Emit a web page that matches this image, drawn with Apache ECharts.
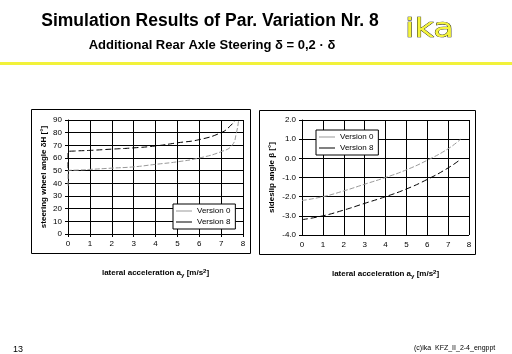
<!DOCTYPE html>
<html>
<head>
<meta charset="utf-8">
<script src="https://cdn.jsdelivr.net/npm/echarts@6/dist/echarts.min.js"></script>
<style>
  html, body { margin: 0; padding: 0; background: #fff; }
  #main { width: 512px; height: 354px; }
</style>
</head>
<body>
<div id="main"></div>
<script>
// data: [lateral acceleration, value]
var steerV0 = [[0, 38], [0, 50], [0.5, 50.5], [1, 51], [2, 52], [3, 53], [4, 55], [5, 57], [6, 60], [7, 65], [7.5, 70], [7.7, 80], [7.8, 90]];
var steerV8 = [[0, 52], [0, 65], [0.3, 65.5], [1, 66], [2, 67], [3, 68], [4, 69.5], [5, 72], [6, 74.5], [7, 80], [7.4, 85], [7.65, 90]];
var slipV0 = [[0, -2.2], [1, -2.0], [2, -1.7], [3, -1.35], [4, -1.0], [5, -0.6], [6, -0.1], [7, 0.5], [7.6, 1.0]];
var slipV8 = [[0, -3.2], [1, -3.0], [2, -2.7], [3, -2.35], [4, -2.0], [5, -1.6], [6, -1.1], [7, -0.5], [7.6, -0.05]];
var names = ["Version 0", "Version 8"];

var font = "Liberation Sans, Arial, sans-serif";

function xAx(idx) {
  return {
    type: "value", gridIndex: idx, min: 0, max: 8, interval: 1,
    name: "{n|lateral acceleration a}{s|y}{n| [m/s}{p|2}{n|]}",
    nameLocation: "middle", nameGap: 34,
    nameTextStyle: {
      rich: {
        n: { fontSize: 8, fontWeight: "bold", fontFamily: font, color: "#000" },
        s: { fontSize: 6, fontWeight: "bold", fontFamily: font, color: "#000", verticalAlign: "bottom", padding: [4, 0, 0, 0] },
        p: { fontSize: 6, fontWeight: "bold", fontFamily: font, color: "#000", verticalAlign: "top", padding: [0, 0, 4, 0] }
      }
    },
    axisLine: { lineStyle: { color: "#000", width: 1 } },
    axisTick: { show: true, length: 3, lineStyle: { color: "#000" } },
    axisLabel: { fontSize: 8, fontFamily: font, color: "#000", margin: 6 },
    splitLine: { show: true, lineStyle: { color: "#000", width: 1 } }
  };
}

function leg(x, y) {
  return {
    data: names, orient: "vertical", left: x, top: y,
    backgroundColor: "#fff", borderColor: "#000", borderWidth: 1, borderRadius: 0,
    padding: [3, 5, 3, 3], itemGap: 3, itemWidth: 16, itemHeight: 1, icon: "rect",
    textStyle: { fontSize: 8, fontFamily: font, color: "#000" }
  };
}

var chart = echarts.init(document.getElementById("main"));
chart.setOption({
  animation: false,
  backgroundColor: "#fff",
  title: [
    {
      text: "Simulation Results of Par. Variation Nr. 8",
      left: 205, top: 7, textAlign: "center",
      textStyle: { fontSize: 17.5, fontWeight: "bold", fontFamily: font, color: "#000" }
    },
    {
      text: "Additional Rear Axle Steering δ = 0,2 · δ",
      left: 207, top: 34, textAlign: "center",
      textStyle: { fontSize: 13, fontWeight: "bold", fontFamily: font, color: "#000" }
    },
    {
      text: "13", left: 8, top: 340,
      textStyle: { fontSize: 9, fontWeight: "normal", fontFamily: font, color: "#000" }
    },
    {
      text: "(c)ika  KFZ_II_2-4_engppt", left: 409, top: 340,
      textStyle: { fontSize: 7, fontWeight: "normal", fontFamily: font, color: "#000" }
    }
  ],
  graphic: [
    { type: "rect", shape: { x: 0, y: 62, width: 512, height: 3 }, style: { fill: "#f2f23a" } },
    {
      type: "text", x: 405, y: 17, scaleX: 1.3,
      style: { text: "ika", font: "26px DejaVu Sans, sans-serif", fill: "#f5f53c", stroke: "#000", lineWidth: 0.7 }
    },
    { type: "rect", shape: { x: 31.5, y: 109.5, width: 219, height: 144 }, style: { fill: "none", stroke: "#000", lineWidth: 1 } },
    { type: "rect", shape: { x: 259.5, y: 110.5, width: 216, height: 144 }, style: { fill: "none", stroke: "#000", lineWidth: 1 } }
  ],
  grid: [
    { left: 68, right: 269, top: 120, bottom: 120 },
    { left: 302, right: 43, top: 120, bottom: 119 }
  ],
  xAxis: [xAx(0), xAx(1)],
  yAxis: [
    {
      type: "value", gridIndex: 0, min: 0, max: 90, interval: 10,
      name: "steering wheel angle δH [°]", nameLocation: "middle", nameGap: 20,
      nameTextStyle: { fontSize: 8, fontWeight: "bold", fontFamily: font, color: "#000" },
      axisLine: { show: true, lineStyle: { color: "#000" } },
      axisTick: { show: true, length: 3, lineStyle: { color: "#000" } },
      axisLabel: { fontSize: 8, fontFamily: font, color: "#000", margin: 6 },
      splitLine: { show: true, lineStyle: { color: "#000" } }
    },
    {
      type: "value", gridIndex: 1, min: -4, max: 2, interval: 1,
      name: "sideslip angle β [°]", nameLocation: "middle", nameGap: 26,
      nameTextStyle: { fontSize: 8, fontWeight: "bold", fontFamily: font, color: "#000" },
      axisLine: { show: true, lineStyle: { color: "#000" } },
      axisTick: { show: true, length: 3, lineStyle: { color: "#000" } },
      axisLabel: { fontSize: 8, fontFamily: font, color: "#000", margin: 6, formatter: function (v) { return v.toFixed(1); } },
      splitLine: { show: true, lineStyle: { color: "#000" } }
    }
  ],
  legend: [leg(173, 204), leg(316, 130)],
  series: [
    { name: names[0], type: "line", xAxisIndex: 0, yAxisIndex: 0, data: steerV0, symbol: "none", smooth: true, color: "#999", lineStyle: { color: "#999", width: 1, type: [5, 2] } },
    { name: names[1], type: "line", xAxisIndex: 0, yAxisIndex: 0, data: steerV8, symbol: "none", smooth: true, color: "#000", lineStyle: { color: "#000", width: 1, type: [6, 3] } },
    { name: names[0], type: "line", xAxisIndex: 1, yAxisIndex: 1, data: slipV0, symbol: "none", smooth: true, color: "#999", lineStyle: { color: "#999", width: 1, type: [5, 2] } },
    { name: names[1], type: "line", xAxisIndex: 1, yAxisIndex: 1, data: slipV8, symbol: "none", smooth: true, color: "#000", lineStyle: { color: "#000", width: 1, type: [6, 3] } }
  ]
});
</script>
</body>
</html>
